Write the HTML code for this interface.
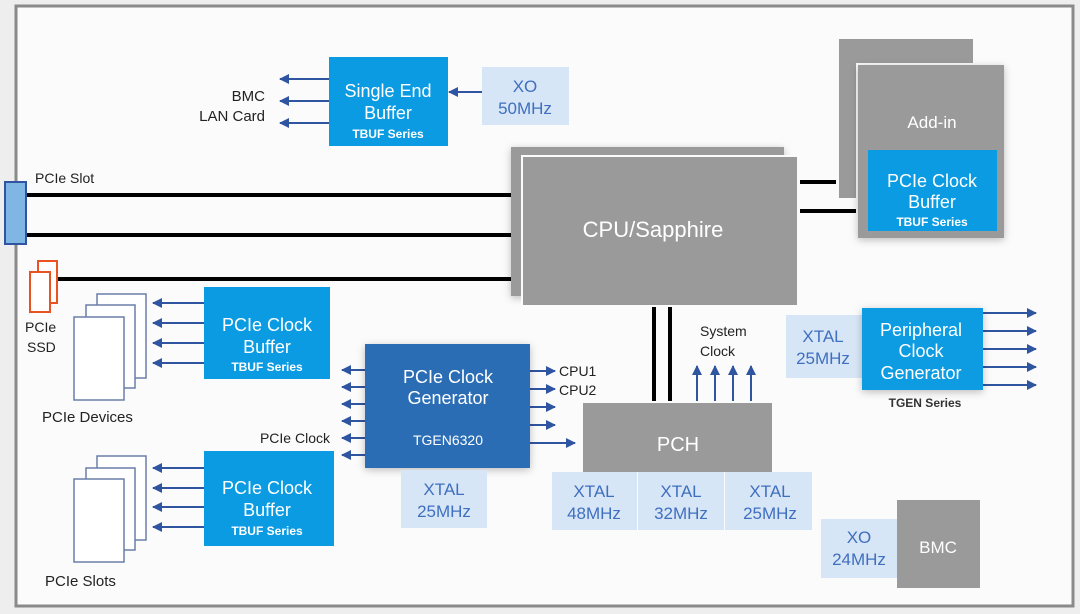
<!DOCTYPE html>
<html><head><meta charset="utf-8"><style>
html,body{margin:0;padding:0;background:#f4f4f5;}
svg{display:block;font-family:"Liberation Sans",sans-serif;}
</style></head><body>
<svg width="1080" height="614" viewBox="0 0 1080 614" xmlns="http://www.w3.org/2000/svg">
<defs>
<marker id="ah" markerWidth="10" markerHeight="10" refX="9" refY="5" orient="auto" markerUnits="userSpaceOnUse">
<path d="M0,0 L10,5 L0,10 Z" fill="#2f55a0"/></marker>
<filter id="sh" x="-20%" y="-20%" width="140%" height="140%"><feDropShadow dx="0" dy="2" stdDeviation="4" flood-color="#000" flood-opacity="0.25"/></filter>
</defs>
<rect x="0" y="0" width="1080" height="614" fill="#eeeeee"/>
<rect x="16" y="6" width="1057" height="600" fill="#fbfbfb" stroke="#8a8a8a" stroke-width="3"/>

<!-- black lines -->
<g stroke="#000" stroke-width="4">
<line x1="26" y1="195" x2="512" y2="195"/>
<line x1="26" y1="235" x2="512" y2="235"/>
<line x1="55" y1="279" x2="512" y2="279"/>
<line x1="800" y1="182" x2="836" y2="182"/>
<line x1="800" y1="211" x2="858" y2="211"/>
<line x1="654" y1="307" x2="654" y2="401"/>
<line x1="670" y1="307" x2="670" y2="401"/>
</g>

<!-- PCIe slot -->
<rect x="5" y="182" width="21" height="62" fill="#7fb6e4" stroke="#2f55a0" stroke-width="2"/>
<text x="35" y="183" font-size="14" fill="#222">PCIe Slot</text>
<!-- SSD -->
<rect x="38" y="261" width="19" height="42" fill="#fff" stroke="#e8531f" stroke-width="2"/>
<rect x="30" y="272" width="20" height="40" fill="#fff" stroke="#e8531f" stroke-width="2"/>
<text x="25" y="332" font-size="14" fill="#222">PCIe</text>
<text x="27" y="352" font-size="14" fill="#222">SSD</text>

<!-- devices stacks -->
<g fill="#fff" stroke="#6a7fa8" stroke-width="1.5">
<rect x="97" y="294" width="49" height="84"/>
<rect x="86" y="305" width="49" height="83"/>
<rect x="74" y="317" width="50" height="83"/>
<rect x="97" y="456" width="49" height="84"/>
<rect x="86" y="468" width="49" height="82"/>
<rect x="74" y="479" width="50" height="83"/>
</g>
<text x="42" y="422" font-size="15" fill="#222">PCIe Devices</text>
<text x="45" y="586" font-size="15" fill="#222">PCIe Slots</text>

<!-- arrows -->
<g stroke="#2f55a0" stroke-width="2" marker-end="url(#ah)">
<line x1="329" y1="79" x2="280" y2="79"/>
<line x1="329" y1="101" x2="280" y2="101"/>
<line x1="329" y1="123" x2="280" y2="123"/>
<line x1="482" y1="92" x2="449" y2="92"/>
<line x1="204" y1="303" x2="153" y2="303"/>
<line x1="204" y1="323" x2="153" y2="323"/>
<line x1="204" y1="343" x2="153" y2="343"/>
<line x1="204" y1="363" x2="153" y2="363"/>
<line x1="204" y1="468" x2="153" y2="468"/>
<line x1="204" y1="488" x2="153" y2="488"/>
<line x1="204" y1="507" x2="153" y2="507"/>
<line x1="204" y1="527" x2="153" y2="527"/>
<line x1="365" y1="370" x2="342" y2="370"/>
<line x1="365" y1="387" x2="342" y2="387"/>
<line x1="365" y1="404" x2="342" y2="404"/>
<line x1="365" y1="421" x2="342" y2="421"/>
<line x1="365" y1="438" x2="342" y2="438"/>
<line x1="365" y1="455" x2="342" y2="455"/>
<line x1="530" y1="371" x2="555" y2="371"/>
<line x1="530" y1="389" x2="555" y2="389"/>
<line x1="530" y1="407" x2="555" y2="407"/>
<line x1="530" y1="425" x2="555" y2="425"/>
<line x1="530" y1="443" x2="575" y2="443"/>
<line x1="697" y1="401" x2="697" y2="366"/>
<line x1="715" y1="401" x2="715" y2="366"/>
<line x1="733" y1="401" x2="733" y2="366"/>
<line x1="751" y1="401" x2="751" y2="366"/>
<line x1="983" y1="313" x2="1036" y2="313"/>
<line x1="983" y1="331" x2="1036" y2="331"/>
<line x1="983" y1="349" x2="1036" y2="349"/>
<line x1="983" y1="367" x2="1036" y2="367"/>
<line x1="983" y1="385" x2="1036" y2="385"/>
</g>

<text x="265" y="101" font-size="15" fill="#222" text-anchor="end">BMC</text>
<text x="265" y="121" font-size="15" fill="#222" text-anchor="end">LAN Card</text>

<!-- Single end buffer -->
<rect x="329" y="57" width="119" height="89" fill="#0a9be2"/>
<text x="388" y="97" font-size="18" fill="#fff" text-anchor="middle">Single End</text>
<text x="388" y="119" font-size="18" fill="#fff" text-anchor="middle">Buffer</text>
<text x="388" y="138" font-size="12" font-weight="bold" fill="#fff" text-anchor="middle">TBUF Series</text>
<rect x="482" y="67" width="87" height="58" fill="#d7e6f6"/>
<text x="525" y="92" font-size="17" fill="#3f6fbf" text-anchor="middle">XO</text>
<text x="525" y="114" font-size="17" fill="#3f6fbf" text-anchor="middle">50MHz</text>

<!-- CPU -->
<rect x="511" y="147" width="273" height="149" fill="#9a9a9a" filter="url(#sh)"/>
<rect x="521" y="155" width="278" height="152" fill="#fbfbfb"/>
<rect x="523" y="157" width="274" height="148" fill="#9a9a9a"/>
<text x="653" y="237" font-size="22" fill="#fff" text-anchor="middle">CPU/Sapphire</text>

<!-- Add-in -->
<rect x="839" y="39" width="134" height="159" fill="#9a9a9a"/>
<rect x="856" y="63" width="150" height="177" fill="#fbfbfb"/>
<rect x="858" y="65" width="146" height="173" fill="#9a9a9a" filter="url(#sh)"/>
<text x="932" y="128" font-size="17" fill="#fff" text-anchor="middle">Add-in</text>
<rect x="868" y="150" width="129" height="81" fill="#0a9be2"/>
<text x="932" y="187" font-size="18" fill="#fff" text-anchor="middle">PCIe Clock</text>
<text x="932" y="208" font-size="18" fill="#fff" text-anchor="middle">Buffer</text>
<text x="932" y="226" font-size="12" font-weight="bold" fill="#fff" text-anchor="middle">TBUF Series</text>

<!-- PCIe Clock Buffers -->
<rect x="204" y="287" width="126" height="92" fill="#0a9be2"/>
<text x="267" y="331" font-size="18" fill="#fff" text-anchor="middle">PCIe Clock</text>
<text x="267" y="353" font-size="18" fill="#fff" text-anchor="middle">Buffer</text>
<text x="267" y="371" font-size="12" font-weight="bold" fill="#fff" text-anchor="middle">TBUF Series</text>
<rect x="204" y="451" width="130" height="95" fill="#0a9be2"/>
<text x="267" y="494" font-size="18" fill="#fff" text-anchor="middle">PCIe Clock</text>
<text x="267" y="516" font-size="18" fill="#fff" text-anchor="middle">Buffer</text>
<text x="267" y="535" font-size="12" font-weight="bold" fill="#fff" text-anchor="middle">TBUF Series</text>

<!-- Generator -->
<rect x="365" y="344" width="165" height="124" fill="#2a6db5" filter="url(#sh)"/>
<text x="448" y="383" font-size="18" fill="#fff" text-anchor="middle">PCIe Clock</text>
<text x="448" y="404" font-size="18" fill="#fff" text-anchor="middle">Generator</text>
<text x="448" y="445" font-size="14" fill="#fff" text-anchor="middle">TGEN6320</text>
<text x="330" y="443" font-size="14" fill="#222" text-anchor="end">PCIe Clock</text>
<text x="559" y="376" font-size="14" fill="#222">CPU1</text>
<text x="559" y="395" font-size="14" fill="#222">CPU2</text>
<rect x="401" y="470" width="86" height="58" fill="#d7e6f6"/>
<text x="444" y="495" font-size="17" fill="#3f6fbf" text-anchor="middle">XTAL</text>
<text x="444" y="517" font-size="17" fill="#3f6fbf" text-anchor="middle">25MHz</text>

<!-- PCH -->
<text x="700" y="336" font-size="14" fill="#222">System</text>
<text x="700" y="356" font-size="14" fill="#222">Clock</text>
<rect x="583" y="403" width="189" height="69" fill="#9a9a9a"/>
<text x="678" y="451" font-size="20" fill="#fff" text-anchor="middle">PCH</text>
<rect x="552" y="472" width="85" height="58" fill="#d7e6f6"/>
<rect x="638" y="472" width="86" height="58" fill="#d7e6f6"/>
<rect x="725" y="472" width="87" height="58" fill="#d7e6f6"/>
<g font-size="17" fill="#3f6fbf" text-anchor="middle">
<text x="594" y="497">XTAL</text><text x="594" y="519">48MHz</text>
<text x="681" y="497">XTAL</text><text x="681" y="519">32MHz</text>
<text x="770" y="497">XTAL</text><text x="770" y="519">25MHz</text>
</g>

<!-- Peripheral -->
<rect x="786" y="315" width="76" height="63" fill="#d7e6f6"/>
<text x="823" y="342" font-size="17" fill="#3f6fbf" text-anchor="middle">XTAL</text>
<text x="823" y="364" font-size="17" fill="#3f6fbf" text-anchor="middle">25MHz</text>
<rect x="862" y="308" width="121" height="82" fill="#0a9be2" filter="url(#sh)"/>
<text x="921" y="336" font-size="18" fill="#fff" text-anchor="middle">Peripheral</text>
<text x="921" y="357" font-size="18" fill="#fff" text-anchor="middle">Clock</text>
<text x="921" y="379" font-size="18" fill="#fff" text-anchor="middle">Generator</text>
<text x="925" y="407" font-size="12" font-weight="bold" fill="#333" text-anchor="middle">TGEN Series</text>

<!-- BMC -->
<rect x="821" y="519" width="76" height="59" fill="#d7e6f6"/>
<text x="859" y="543" font-size="17" fill="#3f6fbf" text-anchor="middle">XO</text>
<text x="859" y="565" font-size="17" fill="#3f6fbf" text-anchor="middle">24MHz</text>
<rect x="897" y="500" width="83" height="88" fill="#9a9a9a"/>
<text x="938" y="553" font-size="17" fill="#fff" text-anchor="middle">BMC</text>
</svg>
</body></html>
